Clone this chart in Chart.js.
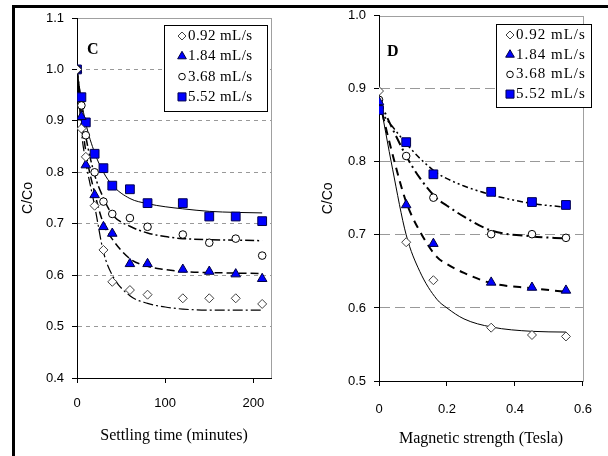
<!DOCTYPE html>
<html>
<head>
<meta charset="utf-8">
<script src="https://cdn.jsdelivr.net/npm/chart.js@4.4.0/dist/chart.umd.min.js"></script>
<style>
  html, body { margin: 0; padding: 0; background: #fff; }
  #wrap { position: relative; width: 608px; height: 456px; overflow: hidden; }
  #frame { position: absolute; left: 12px; top: 5px; width: 600px; height: 460px; border-left: 3px solid #000; border-top: 3px solid #000; }
  canvas { position: absolute; top: 0; }
</style>
</head>
<body>
<div id="wrap">
  <div id="frame"></div>
  <canvas id="chartC" width="304" height="456" style="left:0"></canvas>
  <canvas id="chartD" width="304" height="456" style="left:304px"></canvas>
</div>
<script>
// legend labels (flow rates)
const rateLabels = ["0.92 mL/s", "1.84 mL/s", "3.68 mL/s", "5.52 mL/s"];

// panel C : settling time (minutes)
const timeMin = [0, 5, 10, 20, 30, 40, 60, 80, 120, 150, 180, 210];
const timeC092 = [1.0, 0.885, 0.83, 0.735, 0.649, 0.587, 0.571, 0.562, 0.555, 0.555, 0.555, 0.544];
const timeC184 = [1.0, 0.908, 0.814, 0.756, 0.694, 0.681, 0.622, 0.622, 0.611, 0.607, 0.602, 0.593];
const timeC368 = [1.0, 0.93, 0.872, 0.800, 0.743, 0.719, 0.711, 0.694, 0.679, 0.663, 0.671, 0.638];
const timeC552 = [1.0, 0.946, 0.897, 0.836, 0.808, 0.774, 0.767, 0.740, 0.740, 0.714, 0.714, 0.705];

// fitted curves, panel C
const fitTime = [0, 5, 10, 20, 30, 40, 60, 80, 100, 120, 150, 180, 210];
const fitC092 = [1.0, 0.88, 0.82, 0.735, 0.645, 0.60, 0.56, 0.545, 0.538, 0.534, 0.532, 0.532, 0.532];
const fitC184 = [1.0, 0.91, 0.84, 0.76, 0.70, 0.67, 0.632, 0.617, 0.611, 0.607, 0.605, 0.604, 0.603];
const fitC368 = [1.0, 0.93, 0.87, 0.795, 0.75, 0.718, 0.695, 0.682, 0.675, 0.671, 0.669, 0.668, 0.667];
const fitC552 = [1.0, 0.94, 0.895, 0.838, 0.80, 0.775, 0.749, 0.739, 0.733, 0.729, 0.724, 0.722, 0.721];

// panel D : magnetic strength (Tesla)
const tesla = [0, 0.08, 0.16, 0.33, 0.45, 0.55];
const magC092 = [0.897, 0.690, 0.638, 0.573, 0.563, 0.561];
const magC184 = [0.882, 0.741, 0.688, 0.635, 0.628, 0.624];
const magC368 = [0.885, 0.808, 0.751, 0.701, 0.701, 0.696];
const magC552 = [0.871, 0.827, 0.783, 0.759, 0.745, 0.741];

// fitted curves, panel D
const fitTesla = [0, 0.04, 0.08, 0.12, 0.17, 0.2, 0.25, 0.33, 0.45, 0.55];
const fitM092 = [0.89, 0.79, 0.70, 0.65, 0.612, 0.60, 0.585, 0.574, 0.568, 0.567];
const fitM184 = [0.885, 0.81, 0.745, 0.705, 0.67, 0.66, 0.648, 0.634, 0.627, 0.622];
const fitM368 = [0.885, 0.845, 0.808, 0.778, 0.75, 0.74, 0.725, 0.706, 0.698, 0.695];
const fitM552 = [0.871, 0.848, 0.825, 0.805, 0.785, 0.777, 0.767, 0.755, 0.743, 0.738];

const markers = [
  { pointStyle: 'rectRot', pointRadius: 4.5, pointBackgroundColor: '#fff', pointBorderColor: '#404040' },
  { pointStyle: 'triangle', pointRadius: 5.5, pointBackgroundColor: '#0000ff', pointBorderColor: '#000040' },
  { pointStyle: 'circle', pointRadius: 3.8, pointBackgroundColor: '#fff', pointBorderColor: '#000' },
  { pointStyle: 'rect', pointRadius: 6.2, pointBackgroundColor: '#0000ff', pointBorderColor: '#000050' }
];

function pts(xs, ys) {
  return xs.map((x, i) => ({ x: x, y: ys[i] }));
}

function pointSet(i, xs, ys) {
  return Object.assign({ label: rateLabels[i], data: pts(xs, ys), showLine: false, pointBorderWidth: 1 }, markers[i]);
}

function curveSet(xs, ys, dash, width) {
  return {
    label: 'fit', data: pts(xs, ys), showLine: true, pointRadius: 0,
    borderColor: '#000', borderWidth: width, borderDash: dash,
    cubicInterpolationMode: 'monotone', fill: false
  };
}

const panelDecor = {
  id: 'panelDecor',
  beforeDraw(chart, args, opts) {
    const { ctx, chartArea: a } = chart;
    ctx.save();
    ctx.strokeStyle = '#a0a0a0';
    ctx.lineWidth = 1;
    ctx.strokeRect(Math.round(a.left) + 0.5, Math.round(a.top) + 0.5, Math.round(a.right - a.left), Math.round(a.bottom - a.top));
    ctx.restore();
  },
  afterDraw(chart, args, opts) {
    const ctx = chart.ctx;
    ctx.save();
    ctx.fillStyle = '#000';
    ctx.textBaseline = 'middle';
    ctx.font = 'bold 16px "Liberation Serif"';
    ctx.fillText(opts.letter, opts.letterX, opts.letterY);

    const b = opts.box;
    ctx.fillStyle = '#fff';
    ctx.fillRect(b.x, b.y, b.w, b.h);
    ctx.strokeStyle = '#000';
    ctx.lineWidth = 1;
    ctx.strokeRect(b.x + 0.5, b.y + 0.5, b.w, b.h);
    ctx.font = b.font;
    if ('letterSpacing' in ctx) ctx.letterSpacing = b.spacing;
    rateLabels.forEach((lab, i) => {
      const m = markers[i];
      const y = b.y + b.first + i * b.step;
      ctx.fillStyle = m.pointBackgroundColor;
      ctx.strokeStyle = m.pointBorderColor;
      ctx.lineWidth = 1;
      Chart.helpers.drawPoint(ctx, { pointStyle: m.pointStyle, radius: m.pointRadius - 0.5, rotation: 0, borderWidth: 1 }, b.x + b.mx, y);
      ctx.fillStyle = '#000';
      ctx.fillText(lab, b.x + b.tx, y);
    });
    ctx.restore();
  }
};

Chart.defaults.font.family = '"Liberation Sans", Arial, sans-serif';
Chart.defaults.color = '#000';

function makeChart(id, cfg) {
  return new Chart(document.getElementById(id), {
    type: 'scatter',
    data: { datasets: cfg.datasets },
    options: {
      responsive: false,
      animation: false,
      events: [],
      layout: { padding: cfg.padding },
      plugins: {
        legend: { display: false },
        tooltip: { enabled: false },
        panelDecor: cfg.decor
      },
      scales: {
        x: {
          type: 'linear',
          min: cfg.xMin, max: cfg.xMax,
          afterFit: (s) => { s.height = cfg.xHeight; },
          ticks: { stepSize: cfg.xStep, includeBounds: false, padding: cfg.xTickPad, font: { size: 13 }, maxRotation: 0 },
          grid: { drawOnChartArea: false, tickColor: '#000', tickLength: 5, tickWidth: 1 },
          border: { color: '#000', width: 1 },
          title: { display: true, text: cfg.xTitle, font: { family: '"Liberation Serif"', size: 16 }, padding: { top: 0, bottom: cfg.xTitlePad } }
        },
        y: {
          type: 'linear',
          min: cfg.yMin, max: cfg.yMax,
          afterFit: (s) => { s.width = cfg.yWidth; },
          ticks: { stepSize: 0.1, padding: 8, font: { size: 13 }, callback: (v) => v.toFixed(1) },
          grid: {
            color: (c) => (c.tick && c.tick.value > cfg.yMin + 0.01 && c.tick.value < cfg.yMax - 0.01) ? '#999' : 'rgba(0,0,0,0)',
            tickColor: '#000', tickLength: 5, tickWidth: 1
          },
          border: { color: '#000', width: 1, dash: cfg.gridDash },
          title: { display: true, text: 'C/Co', font: { size: 14 }, padding: { top: cfg.yTitlePad, bottom: 0 } }
        }
      }
    },
    plugins: [panelDecor]
  });
}

makeChart('chartC', {
  datasets: [
    pointSet(0, timeMin, timeC092),
    pointSet(1, timeMin, timeC184),
    pointSet(2, timeMin, timeC368),
    pointSet(3, timeMin, timeC552),
    curveSet(fitTime, fitC092, [10, 3, 2, 3], 1.2),
    curveSet(fitTime, fitC184, [8, 4], 1.5),
    curveSet(fitTime, fitC368, [9, 3, 2, 3], 1.5),
    curveSet(fitTime, fitC552, [], 1)
  ],
  padding: { top: 18, right: 33, left: 0, bottom: 0 },
  xMin: 0, xMax: 220, xStep: 100, xHeight: 78, xTickPad: 13, xTitlePad: 11,
  xTitle: 'Settling time (minutes)',
  yMin: 0.4, yMax: 1.1, yWidth: 77, yTitlePad: 19.5,
  gridDash: [4, 4],
  decor: {
    letter: 'C', letterX: 87, letterY: 50,
    box: { x: 164, y: 25, w: 103, h: 86, first: 11, step: 20.3, mx: 18, tx: 24, font: '15px "Liberation Serif"', spacing: '0.4px' }
  }
});

makeChart('chartD', {
  datasets: [
    pointSet(0, tesla, magC092),
    pointSet(1, tesla, magC184),
    pointSet(2, tesla, magC368),
    pointSet(3, tesla, magC552),
    curveSet(fitTesla, fitM092, [], 1),
    curveSet(fitTesla, fitM184, [8, 6], 2),
    curveSet(fitTesla, fitM368, [10, 4, 2, 4], 2),
    curveSet(fitTesla, fitM552, [6, 3, 2, 3, 2, 3], 1.5)
  ],
  padding: { top: 14, right: 14, left: 0, bottom: 0 },
  xMin: 0, xMax: 0.6, xStep: 0.2, xHeight: 75, xTickPad: 16, xTitlePad: 8,
  xTitle: 'Magnetic strength (Tesla)',
  yMin: 0.5, yMax: 1.0, yWidth: 75, yTitlePad: 15.5,
  gridDash: [10, 5],
  decor: {
    letter: 'D', letterX: 83, letterY: 52,
    box: { x: 192, y: 24, w: 95, h: 83, first: 11, step: 19.7, mx: 14, tx: 20, font: '15px "Liberation Serif"', spacing: '1px' }
  }
});
</script>
</body>
</html>
